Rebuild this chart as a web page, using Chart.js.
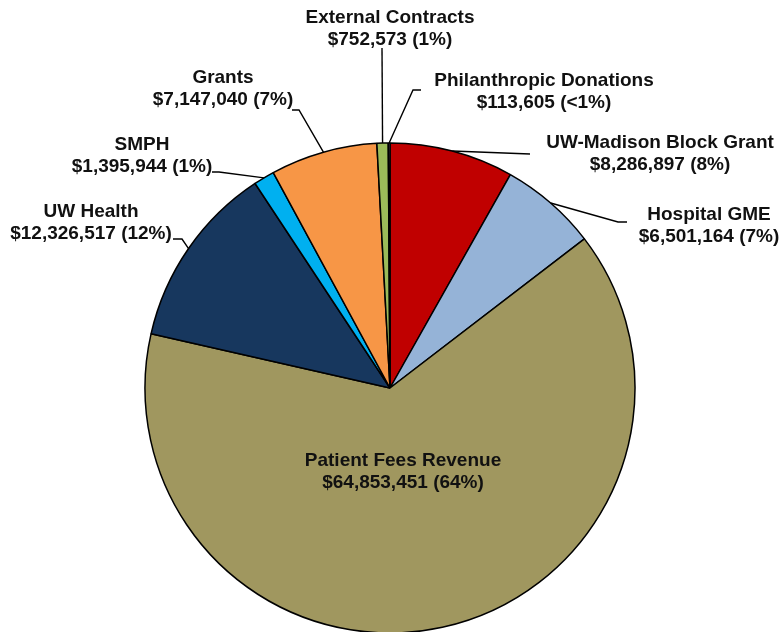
<!DOCTYPE html>
<html>
<head>
<meta charset="utf-8">
<script src="https://cdn.jsdelivr.net/npm/chart.js@4.4.0/dist/chart.umd.min.js"></script>
<style>
  html, body { margin: 0; padding: 0; background: #ffffff; }
  canvas { display: block; }
</style>
</head>
<body>
<canvas id="fundingPie" width="780" height="632"></canvas>
<script>
// Slices, clockwise from 12 o'clock
const categories = [
    'UW-Madison Block Grant',
    'Hospital GME',
    'Patient Fees Revenue',
    'UW Health',
    'SMPH',
    'Grants',
    'External Contracts',
    'Philanthropic Donations'
];
const amounts = [8286897, 6501164, 64853451, 12326517, 1395944, 7147040, 752573, 113605];
const shareLabels = ['8%', '7%', '64%', '12%', '1%', '7%', '1%', '<1%'];

const sliceColors = ['#C00000', '#95B3D7', '#A0975F', '#17375E', '#00B0F0', '#F79646', '#9BBB59', '#8064A2'];

// Where each label sits (centre x, first baseline) and the elbow of its leader line
const labelLayout = [
    { x: 660, y: 148, leader: [[530, 154]] },
    { x: 709, y: 220, leader: [[627, 222], [618, 222]] },
    { x: 403, y: 466, leader: null },
    { x: 91,  y: 217, leader: [[173, 239], [182, 239]] },
    { x: 142, y: 150, leader: [[212, 172], [219, 172]] },
    { x: 223, y: 83,  leader: [[292, 110], [299, 110]] },
    { x: 390, y: 23,  leader: [[382, 48]] },
    { x: 544, y: 86,  leader: [[421, 90], [413, 90]] }
];

const labelFont = "bold 19px 'Liberation Sans', Arial, sans-serif";

const calloutPlugin = {
    id: 'callouts',
    afterDatasetsDraw(chart) {
        const ctx = chart.ctx;
        const arcs = chart.getDatasetMeta(0).data;
        ctx.save();
        arcs.forEach((arc, i) => {
            const p = arc.getProps(['x', 'y', 'startAngle', 'endAngle', 'outerRadius'], true);
            const mid = (p.startAngle + p.endAngle) / 2;
            const ax = p.x + Math.cos(mid) * p.outerRadius;
            const ay = p.y + Math.sin(mid) * p.outerRadius;
            const spot = labelLayout[i];

            if (spot.leader) {
                ctx.beginPath();
                ctx.strokeStyle = '#000000';
                ctx.lineWidth = 1.4;
                ctx.moveTo(spot.leader[0][0], spot.leader[0][1]);
                for (let k = 1; k < spot.leader.length; k++) {
                    ctx.lineTo(spot.leader[k][0], spot.leader[k][1]);
                }
                ctx.lineTo(ax, ay);
                ctx.stroke();
            }

            ctx.font = labelFont;
            ctx.fillStyle = '#111111';
            ctx.textAlign = 'center';
            ctx.textBaseline = 'alphabetic';
            ctx.fillText(categories[i], spot.x, spot.y);
            const line2 = '$' + amounts[i].toLocaleString('en-US') + ' (' + shareLabels[i] + ')';
            ctx.fillText(line2, spot.x, spot.y + 22);
        });
        ctx.restore();
    }
};

new Chart(document.getElementById('fundingPie'), {
    type: 'pie',
    data: {
        labels: categories,
        datasets: [{
            data: amounts,
            backgroundColor: sliceColors,
            borderColor: '#000000',
            borderWidth: 1.5,
            radius: 245
        }]
    },
    options: {
        responsive: false,
        animation: false,
        layout: { padding: { top: 144, bottom: 0, left: 0, right: 0 } },
        plugins: {
            legend: { display: false },
            tooltip: { enabled: false }
        },
        events: []
    },
    plugins: [calloutPlugin]
});
</script>
</body>
</html>
